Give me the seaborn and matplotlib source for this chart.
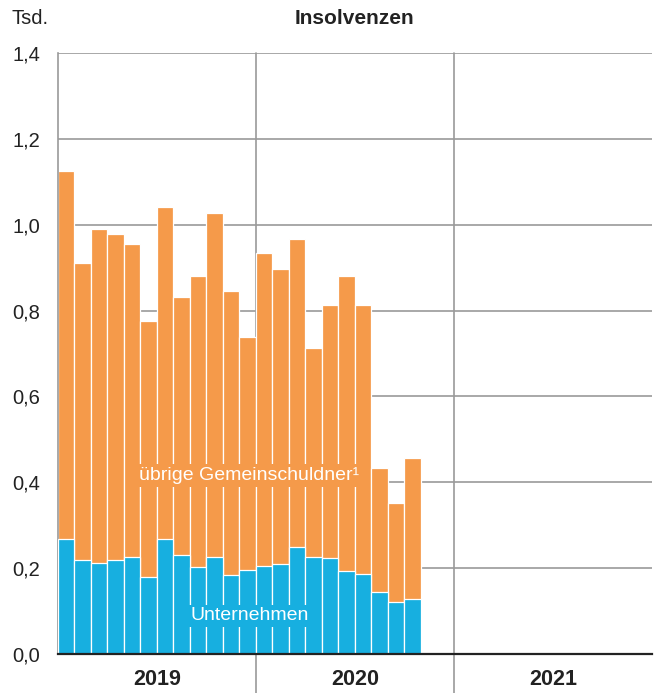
import numpy as np
import pandas as pd
import matplotlib
matplotlib.use("Agg")
import matplotlib.pyplot as plt
import seaborn as sns

# Insolvenzen in Tsd., monatlich (Jan 2019 - Okt 2020)
monate = ["2019-01", "2019-02", "2019-03", "2019-04", "2019-05", "2019-06",
          "2019-07", "2019-08", "2019-09", "2019-10", "2019-11", "2019-12",
          "2020-01", "2020-02", "2020-03", "2020-04", "2020-05", "2020-06",
          "2020-07", "2020-08", "2020-09", "2020-10"]
insgesamt = [1.126, 0.910, 0.989, 0.978, 0.956, 0.776, 1.042, 0.832, 0.880, 1.027, 0.845, 0.738,
             0.933, 0.897, 0.967, 0.712, 0.814, 0.880, 0.812, 0.433, 0.351, 0.457]
unternehmen = [0.268, 0.219, 0.212, 0.219, 0.225, 0.180, 0.268, 0.231, 0.202, 0.227, 0.183, 0.196,
               0.206, 0.210, 0.250, 0.227, 0.223, 0.193, 0.186, 0.144, 0.122, 0.127]
jahre = ["2019", "2020", "2021"]
yticks = [0.0, 0.2, 0.4, 0.6, 0.8, 1.0, 1.2, 1.4]

blau = "#17afe0"
orange = "#f59a4a"
grau = "#9a9a9a"
text_farbe = "#222222"

df = pd.DataFrame({"monat": monate, "insgesamt": insgesamt, "unternehmen": unternehmen})

sns.set_style("white")
plt.rcParams["font.family"] = ["Liberation Sans", "DejaVu Sans"]

fig = plt.figure(figsize=(6.61, 6.93), dpi=100)
ax = fig.add_axes([0.0877, 0.0563, 0.8983, 0.8672])

sns.barplot(data=df, x="monat", y="insgesamt", color=orange, width=1.0,
            edgecolor="white", linewidth=0.9, saturation=1, ax=ax, zorder=2)
sns.barplot(data=df, x="monat", y="unternehmen", color=blau, width=1.0,
            edgecolor="white", linewidth=0.9, saturation=1, ax=ax, zorder=3)

ax.set_xlim(-0.5, 35.5)
ax.set_ylim(0, 1.4)
ax.set_axisbelow(True)

# Gitter
ax.set_yticks(yticks)
ax.set_yticklabels([f"{v:.1f}".replace(".", ",") for v in yticks], fontsize=14.5, color=text_farbe)
ax.yaxis.grid(True, color=grau, linewidth=1.2)
ax.tick_params(axis="y", length=0, pad=13)

# Monatsstriche und Jahrestrenner
ax.set_xticks(np.arange(0.5, 35, 1))
ax.set_xticklabels([])
ax.tick_params(axis="x", direction="in", length=5, width=1, color=grau)
for b in [11.5, 23.5]:
    ax.axvline(b, ymin=-0.08, ymax=1, color=grau, linewidth=1.2, clip_on=False, zorder=1)

for i, j in enumerate(jahre):
    ax.text(5.5 + 12 * i, -0.06, j, ha="center", va="center", fontsize=15.5,
            fontweight="bold", color=text_farbe)

sns.despine(ax=ax, top=True, right=True)
ax.spines["left"].set_color(grau)
ax.spines["left"].set_linewidth(1.2)
ax.spines["bottom"].set_color(text_farbe)
ax.spines["bottom"].set_linewidth(1.6)
ax.spines["bottom"].set_zorder(5)
ax.set_xlabel("")
ax.set_ylabel("")

ax.text(11.1, 0.416, "übrige Gemeinschuldner¹", ha="center", va="center", fontsize=14,
        color="white", zorder=6,
        bbox=dict(facecolor=orange, edgecolor="none", pad=2))
ax.text(11.1, 0.089, "Unternehmen", ha="center", va="center", fontsize=14,
        color="white", zorder=6,
        bbox=dict(facecolor=blau, edgecolor="none", pad=2))

fig.text(0.536, 0.973, "Insolvenzen", ha="center", va="center", fontsize=15,
         fontweight="bold", color=text_farbe)
fig.text(0.018, 0.974, "Tsd.", ha="left", va="center", fontsize=14.5, color=text_farbe)

fig.savefig("out.png", dpi=100)
